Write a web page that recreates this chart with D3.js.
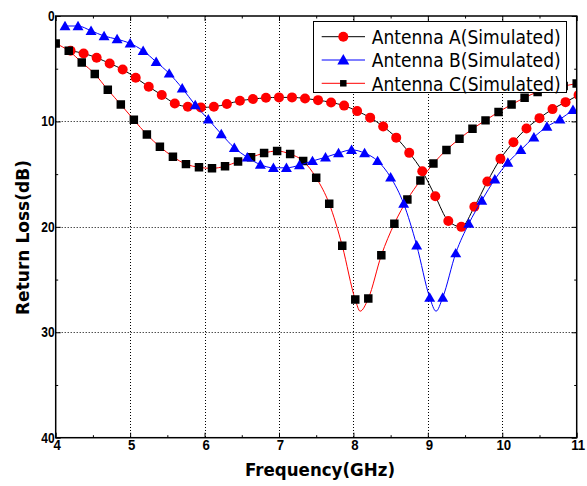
<!DOCTYPE html>
<html>
<head>
<meta charset="utf-8">
<script src="https://cdn.jsdelivr.net/npm/d3@7"></script>
<style>
  body { margin: 0; background: #fff; }
  svg { display: block; font-family: "DejaVu Sans", sans-serif; }
</style>
</head>
<body>
<div id="chart"></div>
<script>
// frequencies (GHz) where each curve has a marker
const freqA = [4.2, 4.375, 4.55, 4.725, 4.9, 5.075, 5.25, 5.425, 5.6, 5.775, 5.95, 6.125, 6.3, 6.475,
  6.65, 6.825, 7.0, 7.175, 7.35, 7.525, 7.7, 7.875, 8.05, 8.225, 8.4, 8.575, 8.75, 8.925, 9.1, 9.275,
  9.45, 9.625, 9.8, 9.975, 10.15, 10.325, 10.5, 10.675, 10.85, 11.025];
const lossA = [3.3, 3.55, 3.96, 4.5, 5.07, 5.86, 6.71, 7.5, 8.3, 8.61, 8.67, 8.61, 8.35, 8.04,
  7.88, 7.76, 7.72, 7.72, 7.82, 7.98, 8.2, 8.5, 9.02, 9.64, 10.48, 11.54, 12.98, 14.72, 17.1, 19.44,
  20.0, 18.1, 15.7, 13.55, 11.97, 10.67, 9.69, 8.83, 8.17, 7.5];

const freqB = [4.125, 4.3, 4.475, 4.65, 4.825, 5.0, 5.175, 5.35, 5.525, 5.7, 5.875, 6.05, 6.225, 6.4,
  6.575, 6.75, 6.925, 7.1, 7.275, 7.45, 7.625, 7.8, 7.975, 8.15, 8.325, 8.5, 8.675, 8.85, 9.025, 9.2,
  9.375, 9.55, 9.725, 9.9, 10.075, 10.25, 10.425, 10.6, 10.775, 10.95];
const lossB = [0.95, 0.95, 1.4, 1.9, 2.2, 2.6, 3.3, 4.35, 5.45, 6.85, 8.45, 9.8, 11.2, 12.5,
  13.4, 14.1, 14.4, 14.4, 14.15, 13.75, 13.4, 13.0, 12.7, 13.0, 13.75, 15.3, 17.8, 21.75, 26.7, 26.7,
  22.5, 19.7, 17.5, 15.5, 13.9, 12.7, 11.5, 10.5, 9.8, 8.9];

const freqC = [4.0, 4.175, 4.35, 4.525, 4.7, 4.875, 5.05, 5.225, 5.4, 5.575, 5.75, 5.925, 6.1, 6.275,
  6.45, 6.625, 6.8, 6.975, 7.15, 7.325, 7.5, 7.675, 7.85, 8.025, 8.2, 8.375, 8.55, 8.725, 8.9, 9.075,
  9.25, 9.425, 9.6, 9.775, 9.95, 10.125, 10.3, 10.475, 10.65, 10.825, 11.0];
const lossC = [2.6, 3.3, 4.4, 5.5, 7.0, 8.4, 9.85, 11.25, 12.4, 13.35, 14.05, 14.35, 14.45, 14.25,
  13.8, 13.4, 13.0, 12.8, 13.1, 13.75, 15.35, 17.8, 21.8, 26.9, 26.8, 22.7, 19.7, 17.4, 15.6, 14.0,
  12.7, 11.65, 10.7, 9.9, 9.1, 8.4, 7.75, 7.2, 6.9, 6.65, 6.4];

// bottoms of the resonance dips (the line passes there, no marker)
const dipB = [[9.11, 28.0]];
const dipC = [[8.09, 28.0]];

const seriesNames = ["Antenna A(Simulated)", "Antenna B(Simulated)", "Antenna C(Simulated)"];
const xTicks = [4, 5, 6, 7, 8, 9, 10, 11];
const xMinor = [4.5, 5.5, 6.5, 7.5, 8.5, 9.5, 10.5];
const yTicks = [0, 10, 20, 30, 40];
const yMinor = [5, 15, 25, 35];

const W = 587, H = 486;
const pL = 55.7, pR = 576.7, pT = 16, pB = 437.7;

const x = d3.scaleLinear().domain([4, 11]).range([pL, pR]);
const y = d3.scaleLinear().domain([0, 40]).range([pT, pB]);

const svg = d3.select("#chart").append("svg").attr("width", W).attr("height", H);

svg.append("defs").append("clipPath").attr("id", "plot")
  .append("rect").attr("x", pL).attr("y", pT)
  .attr("width", pR - pL).attr("height", pB - pT);

// squeeze text horizontally like the reference picture
function squeeze(sel, k) {
  sel.each(function () {
    const len = this.getComputedTextLength();
    d3.select(this).attr("textLength", len * k).attr("lengthAdjust", "spacingAndGlyphs");
  });
}

// grid
const grid = svg.append("g").attr("stroke", "#000").attr("stroke-width", 1)
  .attr("stroke-dasharray", "1,2");
grid.selectAll(".gx").data(xTicks.slice(1, -1)).enter().append("line")
  .attr("x1", d => Math.round(x(d)) + 0.5).attr("x2", d => Math.round(x(d)) + 0.5)
  .attr("y1", pT).attr("y2", pB);
grid.selectAll(".gy").data(yTicks.slice(1, -1)).enter().append("line")
  .attr("y1", d => Math.round(y(d)) + 0.5).attr("y2", d => Math.round(y(d)) + 0.5)
  .attr("x1", pL).attr("x2", pR);

// axes (ticks point inward)
function styleAxis(g) {
  g.select(".domain").remove();
  g.selectAll(".tick line").attr("stroke", "#000").attr("stroke-width", 1);
}
const gB = svg.append("g").attr("transform", `translate(0,${pB})`)
  .call(d3.axisBottom(x).tickValues(xTicks).tickSize(-5).tickPadding(2).tickFormat(d3.format("d")));
gB.call(styleAxis);
gB.selectAll("text").attr("font-size", 15).attr("font-weight", "bold").attr("fill", "#000")
  .attr("dx", 1).call(squeeze, 0.88);
svg.append("g").attr("transform", `translate(0,${pB})`)
  .call(d3.axisBottom(x).tickValues(xMinor).tickSize(-2.5).tickFormat("")).call(styleAxis);
svg.append("g").attr("transform", `translate(0,${pT})`)
  .call(d3.axisTop(x).tickValues(xTicks).tickSize(-5).tickFormat("")).call(styleAxis);
svg.append("g").attr("transform", `translate(0,${pT})`)
  .call(d3.axisTop(x).tickValues(xMinor).tickSize(-2.5).tickFormat("")).call(styleAxis);

const gL = svg.append("g").attr("transform", `translate(${pL},0)`)
  .call(d3.axisLeft(y).tickValues(yTicks).tickSize(-5).tickPadding(1).tickFormat(d3.format("d")));
gL.call(styleAxis);
gL.selectAll("text").attr("font-size", 15).attr("font-weight", "bold").attr("fill", "#000")
  .attr("dy", "0.3em").call(squeeze, 0.8);
svg.append("g").attr("transform", `translate(${pL},0)`)
  .call(d3.axisLeft(y).tickValues(yMinor).tickSize(-2.5).tickFormat("")).call(styleAxis);
svg.append("g").attr("transform", `translate(${pR},0)`)
  .call(d3.axisRight(y).tickValues(yTicks).tickSize(-5).tickFormat("")).call(styleAxis);
svg.append("g").attr("transform", `translate(${pR},0)`)
  .call(d3.axisRight(y).tickValues(yMinor).tickSize(-2.5).tickFormat("")).call(styleAxis);

// data
const line = d3.line().x(d => x(d[0])).y(d => y(d[1])).curve(d3.curveMonotoneX);
const symCircle = d3.symbol().type(d3.symbolCircle).size(Math.PI * 5 * 5);
const symTri = d3.symbol().type(d3.symbolTriangle).size(52);
const symSquare = d3.symbol().type(d3.symbolSquare).size(72);

const series = [
  { f: freqA, v: lossA, extra: [], line: "#000", mark: "#ff0000", sym: symCircle, legendSym: symCircle, dy: 0 },
  { f: freqC, v: lossC, extra: dipC, line: "#ff0000", mark: "#000", sym: symSquare,
    legendSym: d3.symbol().type(d3.symbolSquare).size(42), dy: 0 },
  { f: freqB, v: lossB, extra: dipB, line: "#0000ff", mark: "#0000ff", sym: symTri,
    legendSym: d3.symbol().type(d3.symbolTriangle).size(62), dy: 1 }
];

const plot = svg.append("g").attr("clip-path", "url(#plot)");
series.forEach(s => {
  const pts = s.f.map((f, i) => [f, s.v[i]]);
  const linePts = pts.concat(s.extra).sort((a, b) => a[0] - b[0]);
  plot.append("path").attr("d", line(linePts)).attr("fill", "none")
    .attr("stroke", s.line).attr("stroke-width", 1);
  plot.selectAll(null).data(pts).enter().append("path")
    .attr("d", s.sym)
    .attr("transform", d => `translate(${x(d[0])},${y(d[1]) + s.dy})`)
    .attr("fill", s.mark);
});

// frame
svg.append("rect").attr("x", pL).attr("y", pT)
  .attr("width", pR - pL).attr("height", pB - pT)
  .attr("fill", "none").attr("stroke", "#000").attr("stroke-width", 1.5);

// axis titles
svg.append("text").attr("x", 320).attr("y", 476).attr("text-anchor", "middle")
  .attr("font-size", 18.5).attr("font-weight", "bold").attr("textLength", 150)
  .attr("lengthAdjust", "spacingAndGlyphs").text("Frequency(GHz)");
svg.append("text").attr("transform", "translate(29,237.5) rotate(-90)").attr("text-anchor", "middle")
  .attr("font-size", 18.5).attr("font-weight", "bold").attr("textLength", 155)
  .attr("lengthAdjust", "spacingAndGlyphs").text("Return Loss(dB)");

// legend
const legend = svg.append("g");
legend.append("rect").attr("x", 313.5).attr("y", 21.5).attr("width", 253).attr("height", 71)
  .attr("fill", "#fff").attr("stroke", "#000").attr("stroke-width", 1);
const legendOrder = [series[0], series[2], series[1]];
legendOrder.forEach((s, i) => {
  const cy = 36.7 + i * 23.3;
  legend.append("line").attr("x1", 321.7).attr("x2", 365).attr("y1", cy).attr("y2", cy)
    .attr("stroke", s.line).attr("stroke-width", 1);
  legend.append("path").attr("d", s.legendSym).attr("transform", `translate(343.3,${cy + s.dy})`)
    .attr("fill", s.mark);
  legend.append("text").attr("x", 371.7).attr("y", cy + 7.3).attr("font-size", 19.5)
    .attr("textLength", 189).attr("lengthAdjust", "spacingAndGlyphs")
    .text(seriesNames[i]);
});
</script>
</body>
</html>
